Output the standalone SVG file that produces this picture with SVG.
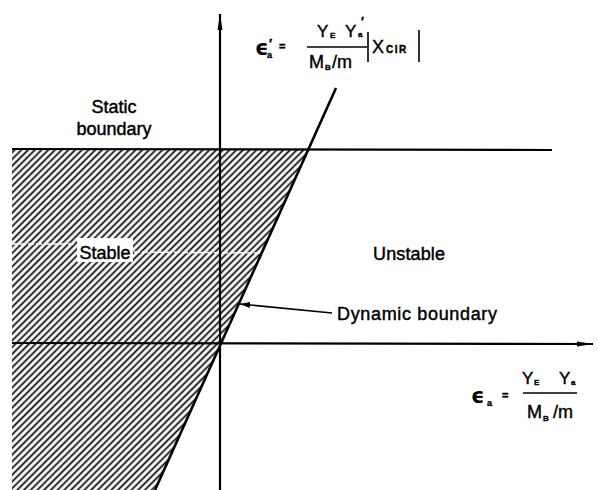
<svg xmlns="http://www.w3.org/2000/svg" width="598" height="490" viewBox="0 0 598 490">
<defs>
<pattern id="hatch" patternUnits="userSpaceOnUse" width="4.75" height="10" patternTransform="rotate(45)">
<line x1="2.4" y1="0" x2="2.4" y2="10" stroke="#000" stroke-width="1.7"/>
</pattern>
<marker id="arr" viewBox="0 0 10 6" refX="10" refY="3" markerWidth="10" markerHeight="6" markerUnits="userSpaceOnUse" orient="auto">
<path d="M0,0 L10,3 L0,6 Z" fill="#000"/>
</marker>
<marker id="axarr" viewBox="0 0 16 6" refX="16" refY="3" markerWidth="16" markerHeight="6" markerUnits="userSpaceOnUse" orient="auto">
<path d="M0,0.5 L16,3 L0,5.5 Z" fill="#000"/>
</marker>
</defs>
<style>
.lbl{font-family:"Liberation Sans",Arial,sans-serif;font-size:18px;fill:#000;stroke:#000;stroke-width:0.45}
.f{font-family:"Liberation Sans",Arial,sans-serif;fill:#000;stroke:#000;stroke-width:0.4}
.eps{font-family:"DejaVu Sans","Liberation Sans",sans-serif;fill:#000;font-weight:bold}
.ax{stroke:#000;stroke-width:2.2;fill:none}
</style>
<rect width="598" height="490" fill="#fff"/>
<g id="stable-region">
<polygon points="12,149 309,149 155,490 12,490" fill="url(#hatch)"/>
<rect x="77" y="238" width="56" height="24" fill="#fff"/>
<line x1="12" y1="244" x2="76" y2="244" stroke="#fff" stroke-width="1.5" stroke-dasharray="6,2"/>
<line x1="134" y1="252" x2="262" y2="253" stroke="#fff" stroke-width="1.5" stroke-dasharray="6,2"/>
<text class="lbl" x="105" y="259" text-anchor="middle">Stable</text>
</g>
<g id="connectors">
<line class="ax" x1="220" y1="490" x2="220" y2="14" marker-end="url(#axarr)"/>
<line class="ax" x1="12" y1="343" x2="593" y2="344" marker-end="url(#axarr)"/>
<line id="static-boundary" class="ax" x1="12" y1="149" x2="552" y2="150"/>
<line id="dynamic-boundary" x1="155" y1="490" x2="336" y2="88" stroke="#000" stroke-width="2.6"/>
<line x1="332" y1="313" x2="240" y2="304" stroke="#000" stroke-width="1.6" marker-end="url(#arr)"/>
</g>
<g id="static-label">
<text class="lbl" x="114" y="113" text-anchor="middle">Static</text>
<text class="lbl" x="114" y="135" text-anchor="middle">boundary</text>
</g>
<g id="unstable-label">
<text class="lbl" x="373" y="260" textLength="72">Unstable</text>
</g>
<g id="dynamic-label">
<text class="lbl" x="337" y="320" textLength="160">Dynamic boundary</text>
</g>
<g id="formula-top">
<text class="eps" x="255" y="55" font-size="21">ϵ</text>
<text class="f" x="269" y="48" font-size="13" font-weight="bold">′</text>
<text class="f" x="267" y="58" font-size="9" font-weight="bold">a</text>
<text class="f" x="279" y="50" font-size="11" font-weight="bold">=</text>
<text class="f" x="317" y="37" font-size="17">Y</text>
<text class="f" x="330" y="38" font-size="8" font-weight="bold">E</text>
<text class="f" x="345" y="37" font-size="17">Y</text>
<text class="f" x="358" y="37" font-size="8" font-weight="bold">a</text>
<text class="f" x="361" y="26" font-size="12" font-weight="bold">′</text>
<line x1="307" y1="47" x2="367" y2="47" stroke="#000" stroke-width="1.4"/>
<text class="f" x="309" y="68" font-size="18">M</text>
<text class="f" x="325" y="70" font-size="8" font-weight="bold">B</text>
<text class="f" x="332" y="68" font-size="18">/m</text>
<line x1="368" y1="32" x2="368" y2="62" stroke="#000" stroke-width="1.6"/>
<text class="f" x="372" y="53" font-size="18">X</text>
<text class="f" x="386" y="53" font-size="10" font-weight="bold" letter-spacing="1.5">CIR</text>
<line x1="419" y1="30" x2="419" y2="62" stroke="#000" stroke-width="1.6"/>
</g>
<g id="formula-bottom">
<text class="eps" x="471" y="403" font-size="21">ϵ</text>
<text class="f" x="487" y="406" font-size="9" font-weight="bold">a</text>
<text class="f" x="502" y="399" font-size="11" font-weight="bold">=</text>
<text class="f" x="522" y="384" font-size="17">Y</text>
<text class="f" x="534" y="385" font-size="8" font-weight="bold">E</text>
<text class="f" x="559" y="384" font-size="17">Y</text>
<text class="f" x="571" y="385" font-size="8" font-weight="bold">a</text>
<line x1="523" y1="393" x2="577" y2="393" stroke="#000" stroke-width="1.4"/>
<text class="f" x="527" y="418" font-size="18">M</text>
<text class="f" x="543" y="421" font-size="8" font-weight="bold">B</text>
<text class="f" x="553" y="418" font-size="18">/m</text>
</g>
</svg>
